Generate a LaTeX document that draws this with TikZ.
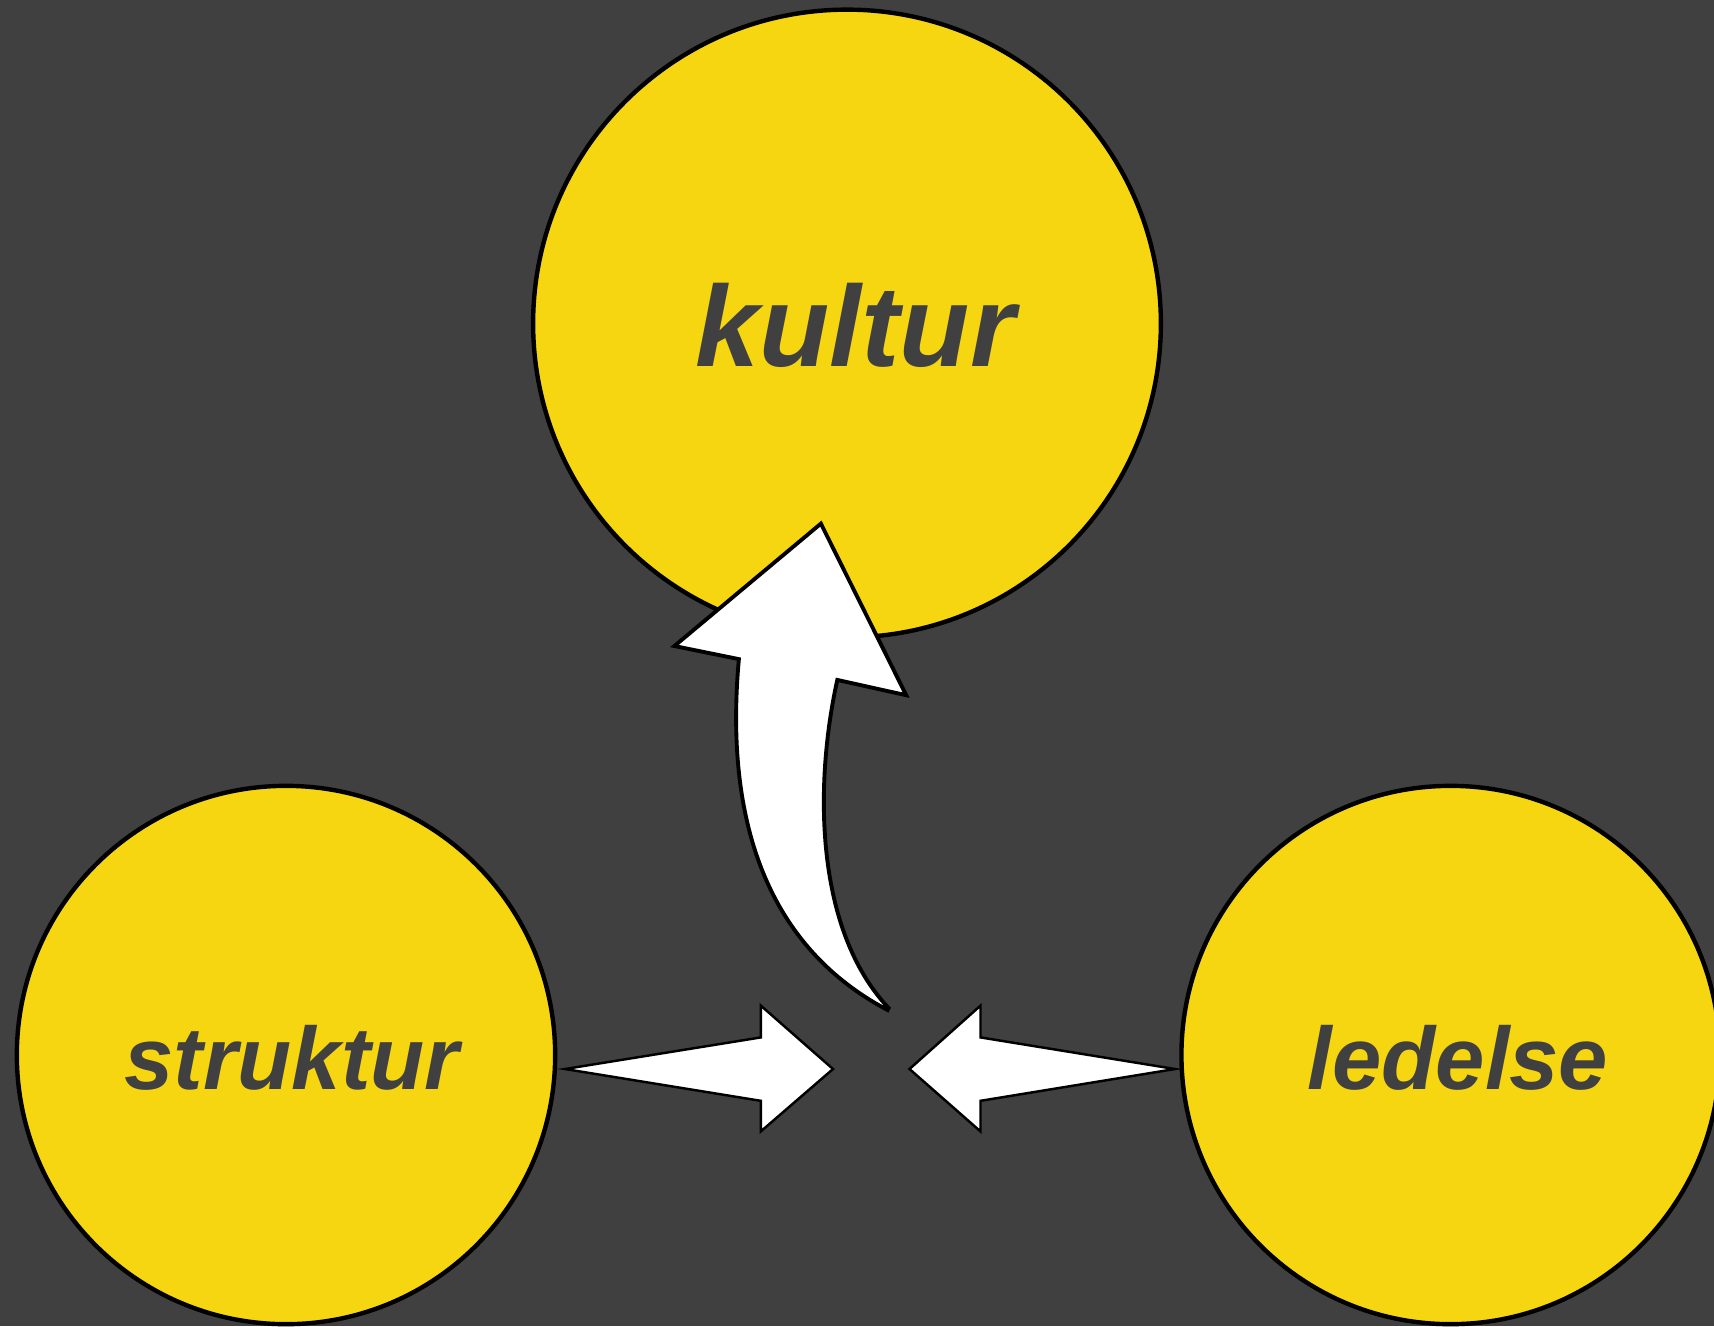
\documentclass[tikz,border=0pt]{standalone}
\usepackage{fontspec}
\setmainfont{Liberation Sans}
\definecolor{bg}{RGB}{64,64,64}
\definecolor{yel}{RGB}{246,214,16}
\begin{document}
\begin{tikzpicture}[x=0.01cm,y=-0.01cm,
  bubble/.style={circle, draw=black, fill=yel, line width=1.25pt, inner sep=0pt},
  lbl/.style={text=bg, anchor=base, inner sep=0pt},
  blockarrow/.style={draw=black, fill=white, line width=0.7pt, line join=miter}]
\fill[bg] (0,0) rectangle (1714,1326);
\useasboundingbox (0,0) rectangle (1714,1326);
\node[bubble, minimum size=6.274cm] (kultur) at (847,323.5) {};
\node[bubble, minimum size=5.38cm] (struktur) at (286,1055) {};
\node[bubble, minimum size=5.38cm] (ledelse) at (1450.6,1055) {};
\node[lbl, font=\fontsize{32.7pt}{32.7pt}\selectfont\bfseries\itshape] (tk) at (855,366) {kultur};
\node[lbl, font=\fontsize{25.2pt}{25.2pt}\selectfont\bfseries\itshape] (ts) at (292,1089) {struktur};
\node[lbl, font=\fontsize{25.2pt}{25.2pt}\selectfont\bfseries\itshape] (tl) at (1458,1089) {ledelse};
% left block arrow
\draw[blockarrow] (565,1069) -- (760.8,1037.4) -- (760.8,1005.6) -- (833,1069) -- (760.8,1131.4) -- (760.8,1100.8) -- cycle;
% right block arrow
\draw[blockarrow] (1175,1069) -- (980.5,1037.4) -- (980.5,1005.6) -- (909.5,1069) -- (980.5,1131.4) -- (980.5,1100.8) -- cycle;
% curved arrow
\draw[blockarrow, line width=1.1pt] (820.9,523.6) -- (906.2,695.2) -- (837.3,679.9)
  .. controls (814,785) and (815,930) .. (888.6,1008) -- (887.6,1010)
  .. controls (755,940) and (726,800) .. (738.9,659.1) -- (674.4,646) -- cycle;
\end{tikzpicture}
\end{document}
